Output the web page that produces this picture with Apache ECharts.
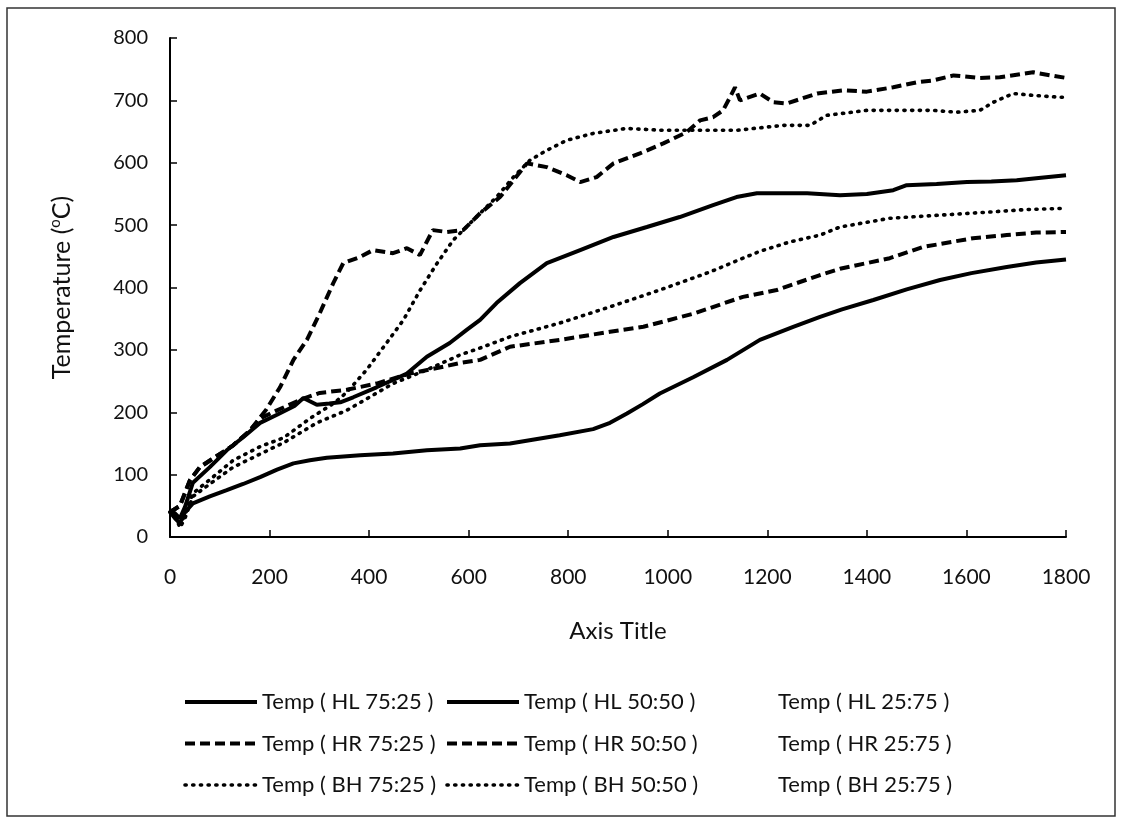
<!DOCTYPE html>
<html>
<head>
<meta charset="utf-8">
<script src="https://cdn.jsdelivr.net/npm/echarts@6/dist/echarts.min.js"></script>
<style>
html,body{margin:0;padding:0;background:#fff;}
#chart{width:1121px;height:822px;}
</style>
</head>
<body>
<div id="chart"></div>
<script>
// ---- data (time in s, temperature in °C) ----
const hl7525T = [0,10,20,30,46,80,114,147,181,215,250,268,280,295,320,342,368,415,476,516,562,596,623,656,703,757,824,891,958,1024,1091,1138,1179,1230,1280,1346,1400,1453,1480,1540,1601,1650,1701,1750,1800];
const hl7525V = [40,38,30,48,87,112,139,160,183,196,210,223,218,212,214,216,224,240,262,289,311,332,348,375,407,439,460,481,497,513,532,545,551,551,551,548,550,556,564,566,569,570,572,576,580];

const hl5050T = [0,10,20,30,46,80,114,147,181,215,248,281,315,382,448,516,583,623,683,783,850,884,918,950,984,1051,1119,1185,1252,1306,1350,1413,1480,1547,1610,1681,1740,1800];
const hl5050V = [40,30,22,40,54,65,75,85,96,108,118,123,127,131,134,139,142,147,150,163,173,183,198,213,230,256,284,316,337,353,365,380,397,412,423,433,440,445];

const hr7525T = [0,10,20,40,60,127,161,194,221,248,275,301,328,348,382,408,448,476,502,528,556,589,623,663,690,717,757,797,824,857,891,944,991,1038,1065,1091,1111,1125,1135,1145,1185,1212,1239,1300,1352,1400,1453,1500,1533,1574,1627,1667,1734,1770,1800];
const hr7525V = [40,45,50,91,112,147,171,205,240,284,316,359,407,439,449,460,455,463,452,492,489,492,519,545,572,599,593,580,569,577,599,615,631,649,668,673,684,705,721,700,711,697,695,711,716,714,721,729,732,740,736,737,745,740,736];

const hr5050T = [0,10,20,40,60,127,161,181,215,268,301,355,415,482,549,583,623,683,783,884,951,1051,1151,1219,1306,1346,1446,1513,1613,1681,1740,1800];
const hr5050V = [40,45,50,91,112,147,171,190,203,222,231,236,246,262,273,279,284,305,316,329,337,358,385,396,420,430,447,465,479,484,488,489];

const bh7525T = [0,10,20,30,46,80,127,181,228,281,330,355,395,435,469,502,535,569,589,623,656,690,723,757,797,850,917,991,1058,1138,1232,1286,1319,1400,1466,1533,1580,1627,1654,1694,1734,1788,1800];
const bh7525V = [40,35,20,35,70,92,123,145,159,190,215,232,268,311,348,395,437,476,492,519,545,577,604,620,636,647,655,652,652,652,660,660,676,684,684,684,681,684,697,711,708,705,705];

const bh5050T = [0,10,20,30,46,80,127,181,228,295,355,448,516,583,623,683,783,884,984,1085,1145,1185,1245,1306,1346,1446,1547,1647,1720,1800];
const bh5050V = [40,35,15,30,65,85,112,133,151,183,203,246,268,292,303,321,343,369,396,425,445,458,473,484,497,511,516,521,525,527];

const seriesNames = [
  'Temp ( HL 75:25 )','Temp ( HL 50:50 )','Temp ( HL 25:75 )',
  'Temp ( HR 75:25 )','Temp ( HR 50:50 )','Temp ( HR 25:75 )',
  'Temp ( BH 75:25 )','Temp ( BH 50:50 )','Temp ( BH 25:75 )'
];

function pairs(t, v){ return t.map((x,i)=>[x, v[i]]); }

const solid = {type:'solid', width:4, color:'#000'};
const dashed = {type:[10,5], width:4, color:'#000'};
const dotted = {type:[1.2,6.5], width:3.6, color:'#000', cap:'round'};
const hidden = {type:'solid', width:4, color:'rgba(0,0,0,0)', opacity:0};

function mk(name, data, ls){
  return {
    name: name, type:'line', data: data, symbol:'none', showSymbol:false,
    lineStyle: ls, itemStyle:{color: ls.color}, color: ls.color,
    emphasis:{disabled:true}, silent:true, smooth:false
  };
}

const series = [
  mk(seriesNames[0], pairs(hl7525T, hl7525V), solid),
  mk(seriesNames[1], pairs(hl5050T, hl5050V), solid),
  mk(seriesNames[2], [], hidden),
  mk(seriesNames[3], pairs(hr7525T, hr7525V), dashed),
  mk(seriesNames[4], pairs(hr5050T, hr5050V), dashed),
  mk(seriesNames[5], [], hidden),
  mk(seriesNames[6], pairs(bh7525T, bh7525V), dotted),
  mk(seriesNames[7], pairs(bh5050T, bh5050V), dotted),
  mk(seriesNames[8], [], hidden)
];

function legendItem(name, ls){
  return {name:name, lineStyle:Object.assign({}, ls), itemStyle:{opacity:0}};
}

const legendBase = {
  orient:'vertical', top:691, padding:0, itemWidth:72, itemHeight:14, itemGap:19.5,
  selectedMode:false, itemStyle:{opacity:0},
  textStyle:{fontFamily:'Lato', fontSize:22, color:'#111', lineHeight:22}
};

const chart = echarts.init(document.getElementById('chart'), null, {renderer:'canvas'});
chart.setOption({
  animation:false,
  backgroundColor:'#fff',
  graphic:[{type:'rect', shape:{x:7, y:8, width:1108, height:808}, style:{fill:'none', stroke:'#333', lineWidth:1.5}, silent:true}],
  grid:{left:170, right:55, top:38, bottom:285},
  legend:[
    Object.assign({}, legendBase, {left:183, data:[legendItem(seriesNames[0], solid), legendItem(seriesNames[3], dashed), legendItem(seriesNames[6], dotted)]}),
    Object.assign({}, legendBase, {left:445, data:[legendItem(seriesNames[1], solid), legendItem(seriesNames[4], dashed), legendItem(seriesNames[7], dotted)]}),
    Object.assign({}, legendBase, {left:699, data:[legendItem(seriesNames[2], hidden), legendItem(seriesNames[5], hidden), legendItem(seriesNames[8], hidden)]})
  ],
  xAxis:{
    type:'value', min:0, max:1800, interval:200,
    name:'Axis Title', nameLocation:'middle', nameGap:82,
    nameTextStyle:{fontFamily:'Lato', fontSize:24, color:'#111'},
    axisLine:{show:true, onZero:false, lineStyle:{color:'#000', width:2}},
    axisTick:{show:true, inside:true, length:7, lineStyle:{color:'#000', width:1.5}},
    axisLabel:{fontFamily:'Lato', fontSize:21, color:'#111', margin:30, formatter:(v)=>String(v)},
    splitLine:{show:false}
  },
  yAxis:{
    type:'value', min:0, max:800, interval:100,
    name:'Temperature ({sup|o}C)', nameLocation:'middle', nameGap:95, nameRotate:90,
    nameTextStyle:{fontFamily:'Lato', fontSize:25, color:'#111',
      rich:{sup:{fontFamily:'Lato', fontSize:15, color:'#111', verticalAlign:'top', padding:[0,0,12,0]}}},
    axisLine:{show:true, onZero:false, lineStyle:{color:'#000', width:2}},
    axisTick:{show:true, inside:true, length:7, lineStyle:{color:'#000', width:1.5}},
    axisLabel:{fontFamily:'Lato', fontSize:20, color:'#111', margin:22, formatter:(v)=>String(v)},
    splitLine:{show:false}
  },
  series: series
});
</script>
</body>
</html>
